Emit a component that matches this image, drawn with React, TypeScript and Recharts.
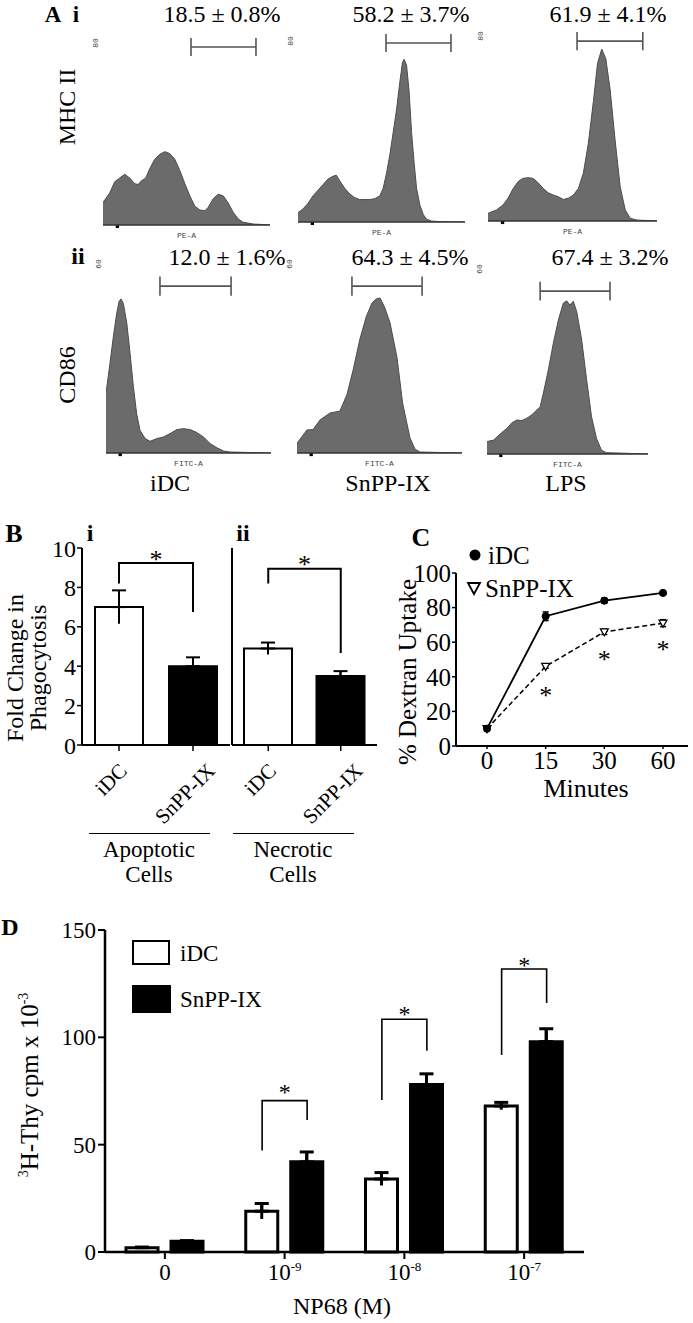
import React from 'react';
import {
  AreaChart, Area, XAxis, YAxis, ReferenceLine, ReferenceArea,
  ComposedChart, ScatterChart, Scatter, Bar, ErrorBar, Line, Cell,
} from 'recharts';

const FONT = "'Liberation Serif', 'Times New Roman', Times, serif";
const MONO = "'Liberation Mono', 'DejaVu Sans Mono', monospace";

// ---------- Panel A: flow cytometry histograms (x: % of axis length, y: % of plot height)
const mhcIdc = [[0,12],[4,17],[7,23],[10,25],[13,27],[16,25],[19,22],[21,21.5],[23,23.5],[25.6,25],[28,30],[31,35],[34,37.6],[37,39],[40,38],[43,35],[46,29],[49,22],[52,15.5],[55,10],[58,8],[61,7.6],[63,9.4],[66,14],[69,16.4],[72,15.5],[75,11.7],[78,6.7],[81,3.2],[84,1.4],[87,1],[90,0.5],[95,0.3],[100,0]];
const mhcSnpp = [[0,5],[3,7],[6,10],[9,14],[12,17],[15,20],[18,23],[21,24.5],[23,25],[25,22],[28,18],[31,15],[34,13],[37,12],[40,12],[43,12],[46,12.5],[49,14],[51,18],[53,26],[55,36],[57,48],[59,60],[61,75],[62.5,85],[63.5,87],[65,84],[66.5,70],[68,48],[69.5,32],[71,18],[73,9],[75,4],[77,1.5],[80,0.5],[85,0.2],[100,0]];
const mhcLps = [[0,4],[5,5.8],[8.9,8.4],[11.9,12],[14.9,17],[17.8,20.6],[20.4,22.3],[23.8,22.7],[26.7,22.3],[29.7,20],[32.7,17],[35.6,14.8],[38.6,13.6],[41.6,12.7],[44.6,11.3],[47.5,11.9],[50.5,13.6],[53.5,17],[56.4,25],[59.4,40.7],[62.4,63],[64.8,82.5],[67.3,90],[69.7,85],[72.3,68.6],[75.2,42.4],[78.2,18],[81.2,5.8],[84.2,1.4],[88.1,0.5],[100,0]];
const cd86Idc = [[0,30.5],[2.4,46],[4.5,60],[6.5,71.7],[7.9,77.7],[9.1,79],[10.5,76.8],[12.6,66.6],[14.6,51],[16.6,34],[18.6,20],[20.6,11.7],[23.7,7.4],[26.7,6],[30.8,7.4],[34.8,8.2],[38.9,10],[42.9,12],[46.9,12.5],[51,12],[55,10.5],[59.1,8.2],[63.2,4.8],[67.2,2.7],[71.3,1],[75.3,0.5],[100,0]];
const cd86Snpp = [[0,5],[6,11.8],[9.7,12],[14,17],[20,20.5],[26,21.5],[30.3,30],[34,42.5],[38,58],[42,70],[45.5,77],[48,79],[50.3,79.5],[53,75],[56.4,66.7],[60.6,49],[64,25.6],[68.5,7.7],[71.5,2],[74.5,0.5],[100,0]];
const cd86Lps = [[0,6.5],[4.1,7.3],[8.2,10.5],[12.4,13.5],[15.5,16.4],[18.6,17.8],[21.6,17.5],[24.7,18.7],[27.8,20.5],[30.9,23],[33,24.8],[35,31.8],[38.1,44],[41.2,58],[44.3,70],[47.4,79],[49.5,80.2],[51.5,78],[53.6,80],[55.7,74.6],[58.8,59.8],[61.9,38.8],[64.9,19.6],[68,8.2],[71.1,2],[74.2,0.7],[100,0]];
const histTicks = [1,8.4,12.7,15.7,18.1,20.1,21.7,23.1,24.4,25.5,32.9,37.2,40.2,42.6,44.6,46.2,47.6,48.9,50,57.4,61.7,64.7,67.1,69.1,70.7,72.1,73.4,74.5,81.9,86.2,89.2,91.6,93.6,95.2,96.6,97.9,99];
const gateRowI = [52.7, 91.6];
const gateRowII = [[32.7, 75.8], [33.3, 75.8], [33, 76.4]];
const gateYRowI = [94.7, 95.7, 94.2];
const gateYRowII = [85.6, 85.6, 85.3];
const pctRowI = ['18.5 ± 0.8%', '58.2 ± 3.7%', '61.9 ± 4.1%'];
const pctRowII = ['12.0 ± 1.6%', '64.3 ± 4.5%', '67.4 ± 3.2%'];
const columnLabels = ['iDC', 'SnPP-IX', 'LPS'];

// ---------- Panel B
const bCats = ['iDC', 'SnPP-IX'];
const bApoptotic = [7.0, 4.0];
const bApoptoticErr = [0.85, 0.45];
const bNecrotic = [4.9, 3.5];
const bNecroticErr = [0.3, 0.25];
const bTicks = [0, 2, 4, 6, 8, 10];
const bFills = ['#ffffff', '#000000'];
// [left leg bottom, bracket top, right leg bottom, asterisk]
const bApoptoticSig = [8.2, 9.24, 6.75, 9.6];
const bNecroticSig = [8.2, 8.95, 4.67, 9.35];

// ---------- Panel C
const cTimes = ['0', '15', '30', '60'];
const cIdc = [10, 75, 84, 88.5];
const cIdcErr = [0.6, 2.5, 1.5, 0.8];
const cSnpp = [10, 46, 66, 71];
const cSnppErr = [0.6, 1, 1.5, 2];
const cStar = [null, 31, 52, 57.5];
const cTicks = [0, 20, 40, 60, 80, 100];

// ---------- Panel D
const dCats = ['0', '10^-9', '10^-8', '10^-7'];
const dIdc = [2, 19, 34, 68];
const dIdcErr = [0.3, 3.6, 3, 1.7];
const dSnpp = [5, 42, 78, 98];
const dSnppErr = [0.3, 4.6, 5, 6];
const dTicks = [0, 50, 100, 150];
const dSigLeft = [null, 47.3, 70.8, 91.8];
const dSigTop = [null, 70.5, 108.4, 131.8];
const dSigRight = [null, 61.5, 93.7, 116];
const dSigStar = [null, 75.7, 112, 135];

// ---------- helpers
function T({ x, y, children, size = 24, bold = false, rotate = 0, family = FONT, color = '#000', align = 'center', lineHeight = 1 }: any) {
  const tx = align === 'left' ? '0' : '-50%';
  return (
    <div style={{
      position: 'absolute', left: x, top: y, transform: `translate(${tx},-50%) rotate(${rotate}deg)`,
      whiteSpace: 'nowrap', fontSize: size, fontWeight: bold ? 'bold' : 'normal', fontFamily: family,
      color, lineHeight, textAlign: 'center',
    }}>{children}</div>
  );
}

const measureCache: Record<string, number> = {};
function measure(text: string, font: string) {
  const k = font + '|' + text;
  if (measureCache[k] == null) {
    const ctx = document.createElement('canvas').getContext('2d');
    if (ctx) { ctx.font = font; measureCache[k] = ctx.measureText(text).width; } else measureCache[k] = text.length * 10;
  }
  return measureCache[k];
}

const StarShape = ({ cx, cy, size = 24 }: any) =>
  cx == null || cy == null || isNaN(cx) || isNaN(cy) ? <g /> : (
    <text x={cx} y={cy + size * 0.45} textAnchor="middle" fontSize={size} fontFamily={FONT} fill="#000">*</text>
  );
const NoShape = () => <g />;

// Overlay with numeric axes matching a bar chart's plot area, for significance brackets
function SigOverlay({ left, top, width, height, margin, xMax, yMax, brackets, stars, starSize, strokeWidth }: any) {
  return (
    <div style={{ position: 'absolute', left, top, pointerEvents: 'none' }}>
      <ScatterChart width={width} height={height} margin={margin}>
        <XAxis dataKey="x" type="number" domain={[0, xMax]} hide allowDataOverflow />
        <YAxis dataKey="y" type="number" domain={[0, yMax]} hide allowDataOverflow />
        {brackets.map((pts: any, i: number) => (
          <Scatter key={'b' + i} data={pts} line={{ stroke: '#000', strokeWidth }} lineType="joint" shape={<NoShape />} isAnimationActive={false} />
        ))}
        <Scatter data={stars} shape={<StarShape size={starSize} />} isAnimationActive={false} />
      </ScatterChart>
    </div>
  );
}

function Hist({ box, points, gate, gateY, cap, xLabel, yLabel }: any) {
  const data = points.map(([x, y]: number[]) => ({ x, y }));
  const w = box.r - box.l + 40;
  const h = box.b - box.t + 25;
  const st = { stroke: '#555', strokeWidth: 1.6 };
  return (
    <>
      <div style={{ position: 'absolute', left: box.l - 20, top: box.t - 5 }}>
        <AreaChart width={w} height={h} data={data} margin={{ top: 5, right: 20, left: 20, bottom: 0 }}>
          <XAxis dataKey="x" type="number" domain={[0, 100]} ticks={histTicks} interval={0} tick={false} tickSize={4} height={20}
            axisLine={{ stroke: '#333', strokeWidth: 1.5 }} tickLine={{ stroke: '#444', strokeWidth: 1 }} allowDataOverflow />
          <YAxis type="number" domain={[0, 100]} width={0} tick={false} tickLine={false} axisLine={{ stroke: '#333', strokeWidth: 1.5 }} allowDataOverflow />
          <Area type="linear" dataKey="y" stroke="#4d4d4d" strokeWidth={1} fill="#6b6b6b" fillOpacity={1} isAnimationActive={false} dot={false} activeDot={false} />
          <ReferenceArea x1={7.6} x2={9.6} y1={-1.6} y2={0} fill="#000" fillOpacity={1} stroke="none" ifOverflow="visible" />
          <ReferenceLine segment={[{ x: gate[0], y: gateY }, { x: gate[1], y: gateY }]} {...st} ifOverflow="visible" />
          <ReferenceLine segment={[{ x: gate[0], y: gateY - cap }, { x: gate[0], y: gateY + cap }]} {...st} ifOverflow="visible" />
          <ReferenceLine segment={[{ x: gate[1], y: gateY - cap }, { x: gate[1], y: gateY + cap }]} {...st} ifOverflow="visible" />
        </AreaChart>
      </div>
      <T x={(box.l + box.r) / 2} y={box.b + 11} size={8} family={MONO} color="#444">{xLabel}</T>
      <T x={box.l - 7} y={box.t + 6} size={8} family={MONO} rotate={-90} color="#444">{yLabel}</T>
    </>
  );
}

// ---------- Panel B
const RotTick = ({ x, y, payload }: any) => {
  const fs = 21;
  const label = String(payload.value);
  const w = measure(label, `${fs}px 'Liberation Serif'`);
  const boxH = (w + fs * 0.7) * Math.SQRT1_2;
  const cx = x - 8;
  const cy = y + 9 + boxH / 2;
  return (
    <text x={cx} y={cy} transform={`rotate(-45 ${cx} ${cy})`} textAnchor="middle" dy="0.33em" fontSize={fs} fontFamily={FONT} fill="#000">{label}</text>
  );
};

function BChart({ divLeft, plotL, plotR, vals, errs, showTickLabels, sig }: any) {
  const top = 528, plotT = 548, plotB = 745, xH = 85;
  const data = bCats.map((name, i) => ({ name, v: vals[i], e: [errs[i], errs[i]], cap: [0, errs[i]] }));
  const width = plotR - divLeft + 5;
  const height = plotB - top + xH;
  const margin = { top: plotT - top, right: 5, left: 0, bottom: 0 };
  const bracket = [{ x: 0.5, y: sig[0] }, { x: 0.5, y: sig[1] }, { x: 1.5, y: sig[1] }, { x: 1.5, y: sig[2] }];
  return (
    <>
      <div style={{ position: 'absolute', left: divLeft, top }}>
        <ComposedChart width={width} height={height} data={data} margin={margin}>
          <XAxis dataKey="name" type="category" height={xH} tickSize={6} tickMargin={2} interval={0}
            axisLine={{ stroke: '#000', strokeWidth: 2 }} tickLine={{ stroke: '#000', strokeWidth: 1.5 }} tick={<RotTick />} />
          <YAxis type="number" domain={[0, 10]} ticks={bTicks} interval={0} width={plotL - divLeft} tickSize={5} tickMargin={1}
            axisLine={{ stroke: '#000', strokeWidth: 2 }} tickLine={{ stroke: '#000', strokeWidth: 1.5 }}
            tick={showTickLabels ? { fill: '#000', fontSize: 24, fontFamily: FONT } : false} allowDataOverflow />
          <Bar dataKey="v" barSize={48} stroke="#000" strokeWidth={2} isAnimationActive={false}>
            {data.map((d, i) => <Cell key={d.name} fill={bFills[i]} />)}
            <ErrorBar dataKey="e" width={0} stroke="#000" strokeWidth={2} />
            <ErrorBar dataKey="cap" width={7} stroke="#000" strokeWidth={2} />
          </Bar>
        </ComposedChart>
      </div>
      <SigOverlay left={divLeft} top={top} width={width} height={height}
        margin={{ top: plotT - top, right: 5, left: plotL - divLeft, bottom: xH }}
        xMax={bCats.length} yMax={10} brackets={[bracket]} stars={[{ x: 1, y: sig[3] }]} starSize={26} strokeWidth={2} />
    </>
  );
}

// ---------- Panel C
const TriDot = ({ cx, cy }: any) =>
  cx == null || cy == null ? <g /> : (
    <polygon points={`${cx - 4},${cy - 3} ${cx + 4},${cy - 3} ${cx},${cy + 4}`} fill="#fff" stroke="#000" strokeWidth={1.2} />
  );
const CircleDot = ({ cx, cy }: any) =>
  cx == null || cy == null ? <g /> : <circle cx={cx} cy={cy} r={3.6} fill="#000" stroke="#000" />;

function CChart() {
  const divL = 400, divT = 555, plotL = 456, plotT = 573, plotR = 688, plotB = 746, xH = 30;
  const data = cTimes.map((t, i) => ({
    t, idc: cIdc[i], snpp: cSnpp[i], ie: [cIdcErr[i], cIdcErr[i]], se: [cSnppErr[i], cSnppErr[i]], star: cStar[i],
  }));
  return (
    <div style={{ position: 'absolute', left: divL, top: divT }}>
      <ComposedChart width={plotR - divL + 5} height={plotB - divT + xH} data={data} margin={{ top: plotT - divT, right: 5, left: 0, bottom: 0 }}>
        <XAxis dataKey="t" type="category" padding={{ left: 31, right: 25 }} height={xH} tickSize={3} tickMargin={2} interval={0}
          axisLine={{ stroke: '#000', strokeWidth: 2 }} tickLine={{ stroke: '#000', strokeWidth: 1.5 }}
          tick={{ fill: '#000', fontSize: 25, fontFamily: FONT }} />
        <YAxis type="number" domain={[0, 100]} ticks={cTicks} interval={0} width={plotL - divL} tickSize={4} tickMargin={1}
          axisLine={{ stroke: '#000', strokeWidth: 2 }} tickLine={{ stroke: '#000', strokeWidth: 1.5 }}
          tick={{ fill: '#000', fontSize: 25, fontFamily: FONT }} />
        <Line dataKey="snpp" stroke="#000" strokeWidth={1.5} strokeDasharray="5 3" dot={<TriDot />} activeDot={false} isAnimationActive={false}>
          <ErrorBar dataKey="se" width={3} stroke="#000" strokeWidth={1.5} />
        </Line>
        <Line dataKey="idc" stroke="#000" strokeWidth={1.8} dot={<CircleDot />} activeDot={false} isAnimationActive={false}>
          <ErrorBar dataKey="ie" width={3} stroke="#000" strokeWidth={1.5} />
        </Line>
        <Line dataKey="star" stroke="none" dot={<StarShape size={26} />} activeDot={false} isAnimationActive={false} />
      </ComposedChart>
    </div>
  );
}

// ---------- Panel D
const DTick = ({ x, y, payload }: any) => {
  const [base, exp] = String(payload.value).split('^');
  return (
    <text x={x} y={y} textAnchor="middle" fontSize={23} fontFamily={FONT} fill="#000" dy="0.71em">
      <tspan>{base}</tspan>
      {exp ? <tspan dy={-9} fontSize={13}>{exp}</tspan> : null}
    </text>
  );
};

function DChart() {
  const divL = 40, divT = 912, plotL = 105, plotT = 930, plotR = 584, plotB = 1252, xH = 40;
  const barSize = 32, barGap = 13;
  const band = (plotR - plotL) / dCats.length;
  const off = (barSize + barGap) / 2 / band;
  const data = dCats.map((c, i) => ({
    c, idc: dIdc[i], snpp: dSnpp[i],
    ie: [dIdcErr[i], dIdcErr[i]], ic: [0, dIdcErr[i]],
    se: [dSnppErr[i], dSnppErr[i]], sc: [0, dSnppErr[i]],
  }));
  const brackets: any[] = [];
  const stars: any[] = [];
  dCats.forEach((c, i) => {
    if (dSigTop[i] == null) return;
    const xl = i + 0.5 - off, xr = i + 0.5 + off;
    brackets.push([{ x: xl, y: dSigLeft[i] }, { x: xl, y: dSigTop[i] }, { x: xr, y: dSigTop[i] }, { x: xr, y: dSigRight[i] }]);
    stars.push({ x: i + 0.5, y: dSigStar[i] });
  });
  const width = plotR - divL + 10;
  const height = plotB - divT + xH;
  return (
    <>
      <div style={{ position: 'absolute', left: divL, top: divT }}>
        <ComposedChart width={width} height={height} data={data} barGap={barGap}
          margin={{ top: plotT - divT, right: 10, left: 0, bottom: 0 }}>
          <XAxis dataKey="c" type="category" height={xH} tickSize={7} tickMargin={5} interval={0}
            axisLine={{ stroke: '#000', strokeWidth: 2.5 }} tickLine={{ stroke: '#000', strokeWidth: 2 }} tick={<DTick />} />
          <YAxis type="number" domain={[0, 150]} ticks={dTicks} interval={0} width={plotL - divL} tickSize={7} tickMargin={2}
            axisLine={{ stroke: '#000', strokeWidth: 2.5 }} tickLine={{ stroke: '#000', strokeWidth: 2 }}
            tick={{ fill: '#000', fontSize: 23, fontFamily: FONT }} />
          <Bar dataKey="idc" barSize={barSize} fill="#fff" stroke="#000" strokeWidth={3} isAnimationActive={false}>
            <ErrorBar dataKey="ie" width={0} stroke="#000" strokeWidth={3} />
            <ErrorBar dataKey="ic" width={7} stroke="#000" strokeWidth={3} />
          </Bar>
          <Bar dataKey="snpp" barSize={barSize} fill="#000" stroke="#000" strokeWidth={3} isAnimationActive={false}>
            <ErrorBar dataKey="se" width={0} stroke="#000" strokeWidth={3} />
            <ErrorBar dataKey="sc" width={7} stroke="#000" strokeWidth={3} />
          </Bar>
        </ComposedChart>
      </div>
      <SigOverlay left={divL} top={divT} width={width} height={height}
        margin={{ top: plotT - divT, right: 10, left: plotL - divL, bottom: xH }}
        xMax={dCats.length} yMax={150} brackets={brackets} stars={stars} starSize={24} strokeWidth={1.6} />
    </>
  );
}

const rowIBoxes = [
  { l: 103, t: 37, r: 270, b: 225 },
  { l: 298, t: 35, r: 465, b: 222 },
  { l: 488, t: 30, r: 657, b: 221 },
];
const rowIIBoxes = [
  { l: 106, t: 258, r: 271, b: 453 },
  { l: 297, t: 258, r: 462, b: 453 },
  { l: 487, t: 263, r: 648, b: 454 },
];
const rowIData = [mhcIdc, mhcSnpp, mhcLps];
const rowIIData = [cd86Idc, cd86Snpp, cd86Lps];
const pctRowIX = [222, 411, 608];
const pctRowIIX = [227, 410, 610];
const columnLabelX = [170, 388, 566];

export default function App() {
  return (
    <div style={{ position: 'absolute', left: 0, top: 0, width: 693, height: 1323, background: '#fff', fontFamily: FONT, color: '#000', overflow: 'hidden' }}>
      {/* Panel A */}
      <T x={53} y={14} size={23} bold>A</T>
      <T x={76} y={14} size={23} bold>i</T>
      <T x={78} y={256} size={24} bold>ii</T>
      <T x={67} y={107} size={24} rotate={-90}>MHC II</T>
      <T x={67} y={375} size={24} rotate={-90}>CD86</T>
      {pctRowI.map((p, i) => <T key={p} x={pctRowIX[i]} y={14} size={24}>{p}</T>)}
      {pctRowII.map((p, i) => <T key={p} x={pctRowIIX[i]} y={257} size={24}>{p}</T>)}
      {rowIBoxes.map((b, i) => (
        <Hist key={'r1' + i} box={b} points={rowIData[i]} gate={gateRowI} gateY={gateYRowI[i]} cap={4.8} xLabel="PE-A" yLabel="80" />
      ))}
      {rowIIBoxes.map((b, i) => (
        <Hist key={'r2' + i} box={b} points={rowIIData[i]} gate={gateRowII[i]} gateY={gateYRowII[i]} cap={4.9} xLabel="FITC-A" yLabel="60" />
      ))}
      {columnLabels.map((c, i) => <T key={c} x={columnLabelX[i]} y={483} size={24}>{c}</T>)}

      {/* Panel B */}
      <T x={14} y={534} size={26} bold>B</T>
      <T x={90} y={533} size={24} bold>i</T>
      <T x={243} y={533} size={24} bold>ii</T>
      <T x={27} y={668} size={24} rotate={-90} lineHeight="23px">Fold Change in<br />Phagocytosis</T>
      <BChart divLeft={30} plotL={82} plotR={230} vals={bApoptotic} errs={bApoptoticErr} showTickLabels sig={bApoptoticSig} />
      <BChart divLeft={222} plotL={232} plotR={377} vals={bNecrotic} errs={bNecroticErr} showTickLabels={false} sig={bNecroticSig} />
      <div style={{ position: 'absolute', left: 89, top: 833, width: 121, height: 0, borderTop: '1.5px solid #000' }} />
      <div style={{ position: 'absolute', left: 233, top: 833, width: 121, height: 0, borderTop: '1.5px solid #000' }} />
      <T x={149} y={849} size={23}>Apoptotic</T>
      <T x={149} y={874} size={23}>Cells</T>
      <T x={293} y={849} size={23}>Necrotic</T>
      <T x={293} y={874} size={23}>Cells</T>

      {/* Panel C */}
      <T x={421} y={538} size={26} bold>C</T>
      <CChart />
      <svg style={{ position: 'absolute', left: 466, top: 546 }} width={20} height={52}>
        <circle cx={9} cy={9} r={5.5} fill="#000" />
        <polygon points="2,37 14,37 8,48" fill="#fff" stroke="#000" strokeWidth={1.8} />
      </svg>
      <T x={488} y={555} size={25} align="left">iDC</T>
      <T x={485} y={588} size={25} align="left">SnPP-IX</T>
      <T x={407} y={672} size={25} rotate={-90}>% Dextran Uptake</T>
      <T x={586} y={789} size={26}>Minutes</T>

      {/* Panel D */}
      <T x={10} y={927} size={24} bold>D</T>
      <DChart />
      <div style={{ position: 'absolute', left: 132, top: 940, width: 34, height: 21, border: '2.5px solid #000', background: '#fff' }} />
      <div style={{ position: 'absolute', left: 132, top: 985, width: 39, height: 28, background: '#000' }} />
      <T x={180} y={953} size={23} align="left">iDC</T>
      <T x={180} y={999} size={23} align="left">SnPP-IX</T>
      <T x={29} y={1085} size={25} rotate={-90}>
        <span style={{ fontSize: 14, verticalAlign: 'super', lineHeight: 0 }}>3</span>H-Thy cpm x 10<span style={{ fontSize: 14, verticalAlign: 'super', lineHeight: 0 }}>-3</span>
      </T>
      <T x={342} y={1306} size={24}>NP68 (M)</T>
    </div>
  );
}
